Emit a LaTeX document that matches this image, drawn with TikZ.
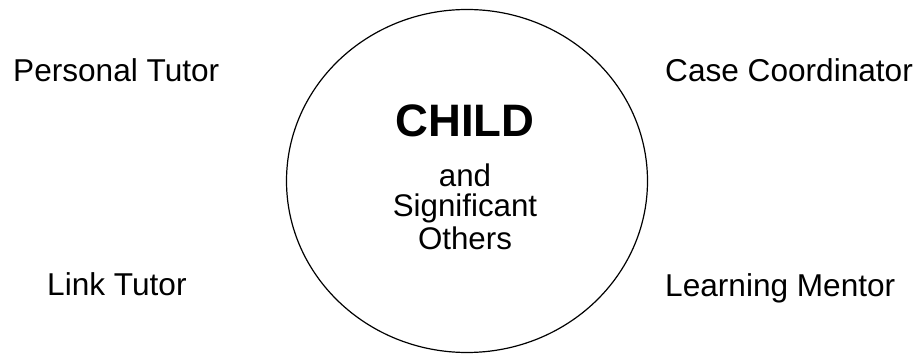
\documentclass[tikz,border=0pt]{standalone}
\usepackage{fontspec}
\setmainfont{Liberation Sans}
\usetikzlibrary{shapes.geometric}
\begin{document}
\begin{tikzpicture}[x=1pt,y=1pt,
  role/.style={font=\fontsize{31.6}{36}\selectfont, inner sep=0pt, anchor=base west},
  mid/.style={font=\fontsize{31.3}{36}\selectfont, inner sep=0pt, anchor=base}]
\useasboundingbox[fill=white] (0,0) rectangle (919,356);
\node[ellipse, draw, line width=1.2pt, minimum width=361pt, minimum height=343pt, inner sep=0pt] (circ) at (467,175) {};
\node[font=\bfseries\fontsize{45.5}{52}\selectfont, inner sep=0pt, anchor=base] (child) at (465,219) {CHILD};
\node[mid] (and) at (465,169) {and};
\node[mid] (sig) at (465,139) {Significant};
\node[mid] (oth) at (465,106) {Others};
\node[role] (pt) at (13,274) {Personal Tutor};
\node[role] (cc) at (665,274) {Case Coordinator};
\node[role] (lt) at (47,60) {Link Tutor};
\node[role] (lm) at (665,59) {Learning Mentor};
\end{tikzpicture}
\end{document}
